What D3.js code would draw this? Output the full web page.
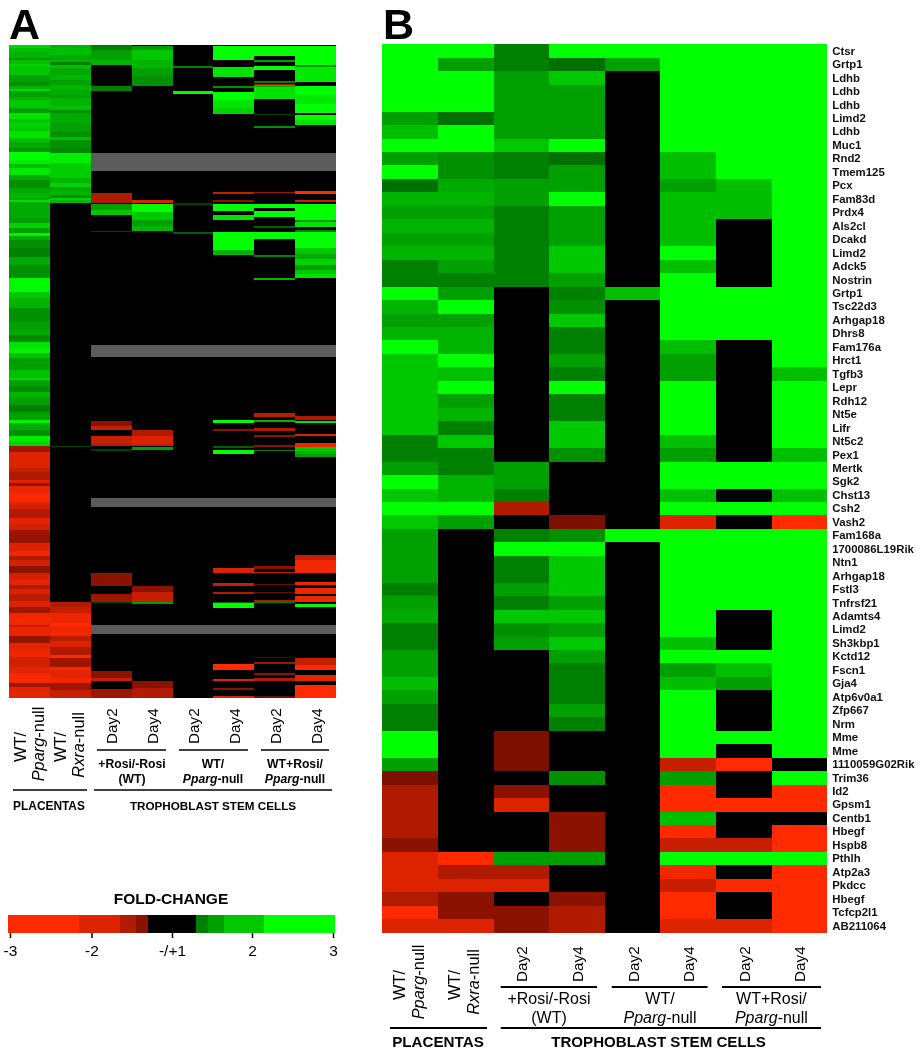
<!DOCTYPE html>
<html>
<head>
<meta charset="utf-8">
<script src="https://cdn.jsdelivr.net/npm/d3@7"></script>
<style>
body{margin:0;background:#fff;}
svg{display:block;font-family:"Liberation Sans",Arial,sans-serif;filter:blur(0.5px);}
</style>
</head>
<body>
<svg width="923" height="1050"></svg>
<script>
// colour key, symmetric fold-change (everything between -1 and +1 is black)
var levels = [-3, -2, -1.6, -1.4, -1, 1, 1.4, 1.6, 2, 3];
var levelColors = ["#ff2a00", "#dd2200", "#b01a00", "#8c1200", "#000000", "#000000", "#008000", "#00a000", "#00c800", "#00ff00"];
var keyEdges = [-3.03, -2.15, -1.65, -1.45, -1.3, 1.3, 1.45, 1.65, 2.15, 3.02];
var keyValues = [-3, -2, -1.6, -1.4, 0, 1.4, 1.6, 2, 3];
var keyTicks = [-3, -2, -1, 2, 3];
var keyTickLabels = ["-3", "-2", "-/+1", "2", "3"];

var genes = ["Ctsr", "Grtp1", "Ldhb", "Ldhb", "Ldhb", "Limd2", "Ldhb", "Muc1", "Rnd2", "Tmem125", "Pcx", "Fam83d", "Prdx4", "Als2cl", "Dcakd", "Limd2", "Adck5", "Nostrin",
    "Grtp1", "Tsc22d3", "Arhgap18", "Dhrs8", "Fam176a", "Hrct1", "Tgfb3", "Lepr", "Rdh12", "Nt5e", "Lifr", "Nt5c2", "Pex1", "Mertk", "Sgk2", "Chst13", "Csh2", "Vash2",
    "Fam168a", "1700086L19Rik", "Ntn1", "Arhgap18", "Fstl3", "Tnfrsf21", "Adamts4", "Limd2", "Sh3kbp1", "Kctd12", "Fscn1", "Gja4", "Atp6v0a1", "Zfp667", "Nrm", "Mme", "Mme", "1110059G02Rik",
    "Trim36", "Id2", "Gpsm1", "Centb1", "Hbegf", "Hspb8", "Pthlh", "Atp2a3", "Pkdcc", "Hbegf", "Tcfcp2l1", "AB211064"];

// panel B, one row per gene, 8 columns
var valuesB = [
    [3,3,1.4,3,3,3,3,3],[3,1.6,1.4,1.35,1.6,3,3,3],[3,3,1.6,2,0,3,3,3],[3,3,1.6,1.6,0,3,3,3],[3,3,1.6,1.6,0,3,3,3],
    [1.6,1.35,1.6,1.6,0,3,3,3],[1.9,3,1.6,1.6,0,3,3,3],[3,3,2,3,0,3,3,3],[1.6,1.5,1.4,1.35,0,1.9,3,3],[3,1.5,1.4,1.6,0,1.9,3,3],
    [1.35,1.7,1.6,1.6,0,1.6,1.9,3],[1.8,1.8,1.6,3,0,1.9,1.9,3],[1.6,1.6,1.4,1.6,0,1.9,1.9,3],[1.8,1.8,1.4,1.6,0,1.9,0,3],[1.6,1.6,1.4,1.6,0,1.9,0,3],
    [1.8,1.8,1.4,2,0,3,0,3],[1.4,1.6,1.4,2,0,1.9,0,3],[1.4,1.4,1.4,1.6,0,3,0,3],
    [3,1.6,0,1.4,1.9,3,3,3],[1.8,3,0,1.5,0,3,3,3],[1.6,1.6,0,2,0,3,3,3],[1.8,1.8,0,1.4,0,3,3,3],[3,1.8,0,1.4,0,1.9,0,3],
    [2,3,0,1.6,0,1.6,0,3],[2,1.9,0,1.4,0,1.6,0,1.9],[2,3,0,3,0,3,0,3],[2,1.6,0,1.4,0,3,0,3],[2,1.8,0,1.4,0,3,0,3],
    [2,1.4,0,2,0,3,0,3],[1.4,2,0,2,0,1.9,0,3],[1.4,1.4,0,1.5,0,1.6,0,1.9],[1.6,1.4,1.6,0,0,3,3,3],[3,1.8,1.6,0,0,3,3,3],
    [2,1.8,1.4,0,0,1.9,0,1.9],[3,3,-1.6,0,0,3,3,3],[2,1.6,0,-1.35,0,-2,0,-3],
    [1.6,0,1.4,1.5,3,3,3,3],[1.6,0,3,3,0,3,3,3],[1.6,0,1.4,2,0,3,3,3],[1.6,0,1.4,2,0,3,3,3],[1.4,0,1.6,2,0,3,3,3],
    [1.6,0,1.4,1.6,0,3,3,3],[1.7,0,2,2,0,3,0,3],[1.4,0,1.5,1.6,0,3,0,3],[1.4,0,1.6,2,0,1.9,0,3],[1.6,0,0,1.6,0,3,3,3],
    [1.6,0,0,1.4,0,1.6,1.9,3],[1.9,0,0,1.4,0,1.9,1.6,3],[1.6,0,0,1.4,0,3,0,3],[1.4,0,0,1.6,0,3,0,3],[1.4,0,0,1.4,0,3,0,3],
    [3,0,-1.35,0,0,3,3,3],[3,0,-1.35,0,0,3,0,3],[1.6,0,-1.35,0,0,-1.8,-3,0],[-1.35,0,0,1.5,0,1.6,0,3],[-1.6,0,-1.4,0,0,-3,0,-3],
    [-1.6,0,-2,0,0,-3,-3,-3],[-1.6,0,0,-1.4,0,1.9,0,0],[-1.6,0,0,-1.4,0,-3,0,-3],[-1.4,0,0,-1.4,0,-1.8,-1.8,-3],[-2,-3,1.6,1.6,0,3,3,3],
    [-2,-1.6,-1.6,0,0,-2.6,0,-3],[-2,-2,-2,0,0,-1.8,-3,-3],[-1.6,-1.4,0,-1.4,0,-3,0,-3],[-3,-1.4,-1.4,-1.6,0,-3,0,-3],[-2,-2,-1.4,-1.6,0,-2,-2,-3]
];

// panel A has far too many genes for a table: each column is a list of [rows, value]
var colA1 = [[3,2.3],[4,1.9],[6,1.8],[2,1.5],[4,1.9],[3,2.2],[2,1.9],[6,2],[7,1.6],[4,1.5],[3,1.8],[2,2.3],[6,1.6],[3,1.8],[8,2],[5,1.6],[6,2.5],[3,1.9],[5,2.2],[4,2],[7,2.5],[4,1.9],[6,1.7],[4,1.5],[8,3],[4,2.7],[4,1.9],[7,2.6],[5,1.7],[8,1.5],[5,1.7],[5,1.8],[2,1.7],[2,2.4],[8,1.7],
    [8,1.7],[5,1.6],[5,2.2],[5,1.6],[3,2.8],[4,1.7],[8,1.5],[9,1.4],[8,1.7],[13,1.5],[14,2.9],[6,2],[10,1.8],[14,1.5],[8,1.6],[5,1.7],[7,1.45],[7,2.5],[4,2.8],[5,1.9],[12,1.6],
    [8,1.9],[2,2.3],[7,1.6],[5,1.45],[6,1.8],[7,1.6],[7,1.4],[8,1.6],[3,2.8],[7,1.7],[6,1.5],[5,2.7],[5,2.2],
    [6,-1.5],[16,-2],[4,-1.8],[8,-1.6],[3,-2],[3,-1.45],[7,-2.4],[9,-2.9],[2,-2.2],[5,-1.9],[9,-1.6],[6,-2.2],[6,-1.9],[5,-1.5],
    [8,-1.45],[8,-2],[5,-2.6],[4,-1.6],[6,-1.9],[7,-1.4],[6,-1.9],[6,-2.3],[4,-1.6],[5,-2],[7,-1.7],[6,-2],[6,-1.5],[4,-2.5],[8,-2.6],[2,-1.8],[9,-2.4],[7,-1.45],[7,-2.2],[7,-2.5],[10,-1.9],[6,-2.1],[10,-2.8],[4,-1.5],[6,-2.2],[5,-2.3]];
var colA2 = [[3,1.8],[7,1.9],[5,1.7],[2,1.8],[3,1.4],[3,1.9],[7,1.7],[5,1.8],[5,1.6],[5,1.8],[5,1.7],[3,1.6],[7,1.8],[5,1.9],[3,1.5],[10,1.7],[9,1.6],[5,1.5],[3,1.9],[8,1.5],[5,1.45],[10,2.7],[15,2.1],[5,1.8],[4,2.2],[3,1.6],[5,1.8],[3,1.5],[2,2.2],[3,1.8],
    [243,0],[1,1.2],[155,0],
    [5,-1.6],[6,-1.8],[10,-2.5],[4,-3],[3,-2.4],[6,-2.6],[5,-1.7],[6,-2],[8,-1.6],[3,-3],[9,-1.5],[3,-2.8],[8,-2.2],[5,-2.6],[7,-1.5],[8,-1.8]];
var colA3 = [[5,1.4],[10,1.6],[5,1.8],[21,0],[5,1.4],[102,0],[10,-1.6],[1,0],[6,1.6],[5,2],[16,0],[1,1.2],[189,0],[5,-1.4],[4,-1.8],[6,0],[8,-1.8],[2,-1.6],[3,0],[2,1.2],[122,0],[13,-1.4],[8,0],[8,-1.5],[1,1.2],[68,0],[7,-1.4],[3,-1.8],[8,0],[9,-1.5]];
var colA4 = [[1,0],[4,1.6],[10,2],[8,1.8],[8,1.6],[10,1.5],[114,0],[3,-2],[1,0],[8,3],[8,2],[6,1.6],[5,1.8],[199,0],[6,-1.6],[8,-2],[2,-1.8],[1,0],[3,1.6],[136,0],[6,-1.4],[10,-1.8],[2,1.6],[77,0],[7,-1.4],[10,-1.6]];
var colA5 = [[21,0],[2,1.4],[23,0],[3,3],[109,0],[2,1.2],[27,0],[2,1.3]];
var colA6 = [[1,0],[14,3],[7,0],[10,2.5],[9,0],[2,1.5],[4,0],[8,3],[8,2.5],[6,2.2],[78,0],[2,-1.8],[6,0],[2,-1.4],[2,0],[7,3],[4,0],[5,2.5],[12,0],[18,3],[5,1.8],[165,0],[3,3],[6,0],[2,-1.4],[15,0],[2,1.3],[2,0],[4,3],[114,0],[5,-2],[10,0],[3,-1.8],[6,0],[2,-1.6],[8,0],[1,1.3],[5,3],[56,0],[6,-3],[9,0],[2,-2],[7,0],[2,-1.4],[6,0],[2,-2]];
var colA7 = [[1,0],[10,3],[4,0],[2,1.6],[4,0],[4,3],[11,0],[2,1.4],[1,0],[1,-1.6],[2,1.8],[12,2.5],[15,0],[1,1.2],[11,0],[2,1.5],[64,0],[1,-1.5],[11,0],[4,3],[3,0],[6,3],[9,0],[2,1.3],[4,0],[7,3],[16,0],[2,1.4],[21,0],[2,1.8],[133,0],[4,-1.7],[3,0],[2,1.8],[6,0],[3,-1.6],[4,0],[2,-1.4],[8,0],[2,-1.4],[3,0],[1,1.4],[115,0],[3,-1.4],[3,0],[1,-1.8],[11,0],[1,-1.3],[7,0],[1,-1.3],[7,0],[2,-1.6],[1,1.4],[54,0],[1,-1.2],[4,0],[2,-1.5],[9,0],[2,-1.4],[3,0],[3,-1.6],[15,0],[2,-1.3]];
var colA8 = [[1,0],[19,3],[2,1.5],[15,2.6],[4,0],[9,3],[9,2.6],[9,3],[2,0],[5,3],[5,2.5],[66,0],[2,-3],[1,1.8],[6,0],[2,-1.8],[2,0],[16,3],[2,1.5],[5,2.5],[3,0],[2,1.4],[16,3],[6,2],[5,1.7],[6,2.2],[5,1.6],[4,2],[4,2.5],[138,0],[4,-1.6],[1,0],[2,2.5],[11,0],[2,-2],[7,0],[4,-2.5],[4,2],[3,1.8],[3,1.6],[98,0],[5,-1.8],[13,-2.6],[9,0],[3,-2.5],[3,0],[6,-2.5],[2,0],[6,-2.5],[2,0],[3,3],[51,0],[7,-1.8],[5,-3],[5,0],[6,-2.2],[4,0],[13,-3]];
var columnsA = [colA1, colA2, colA3, colA4, colA5, colA6, colA7, colA8];
var rowsA = 653;
// [first row, rows] with no call in the stem cell columns (grey)
var noCallA = [[108,18],[300,12],[453,9],[580,9]];

var dayLabels = ["Day2", "Day4"];

var color = d3.scaleLinear().domain(levels).range(levelColors).clamp(true);
var svg = d3.select("svg");

function drawText(parent, x, y, parts, size, weight, rotate) {
    var t = parent.append("text")
        .attr("text-anchor", "middle")
        .attr("font-size", size)
        .attr("font-weight", weight || "normal")
        .attr("fill", "#000");
    if (rotate) t.attr("transform", "translate(" + x + "," + y + ") rotate(-90)");
    else t.attr("x", x).attr("y", y);
    parts.forEach(function(p) {
        var s = t.append("tspan").text(p.replace("*", ""));
        if (p.indexOf("*") == 0) s.attr("font-style", "italic");
    });
    return t;
}

function rule(parent, x1, x2, y, w) {
    parent.append("line").attr("x1", x1).attr("x2", x2).attr("y1", y).attr("y2", y)
        .attr("stroke", "#000").attr("stroke-width", w);
}

// ---------- panel A
var xA = d3.scaleBand().domain(d3.range(8)).range([9, 336]);
var yA = d3.scaleLinear().domain([0, rowsA]).range([45, 698]);
var gA = svg.append("g").attr("shape-rendering", "crispEdges").attr("class", "heat");
gA.append("rect").attr("x", xA(0)).attr("y", yA(0)).attr("width", xA.bandwidth() * 8).attr("height", yA(rowsA) - yA(0)).attr("fill", "#000");

columnsA.forEach(function(runs, c) {
    var start = 0;
    var cells = runs.map(function(r) {
        var cell = {start: start, n: r[0], v: r[1]};
        start += r[0];
        return cell;
    });
    gA.selectAll("rect.c" + c).data(cells).enter().append("rect")
        .attr("class", "c" + c)
        .attr("x", xA(c))
        .attr("y", function(d) { return yA(d.start); })
        .attr("width", xA.bandwidth())
        .attr("height", function(d) { return yA(d.start + d.n) - yA(d.start); })
        .attr("fill", function(d) { return color(d.v); });
});
gA.selectAll("rect.nocall").data(noCallA).enter().append("rect")
    .attr("class", "nocall")
    .attr("x", xA(2))
    .attr("y", function(d) { return yA(d[0]); })
    .attr("width", xA.bandwidth() * 6)
    .attr("height", function(d) { return yA(d[0] + d[1]) - yA(d[0]); })
    .attr("fill", "#5c5c5c");

svg.append("text").attr("x", 9).attr("y", 39).attr("font-size", 43).attr("font-weight", "bold").attr("fill", "#000").text("A");

var labA = svg.append("g");
drawText(labA, 26, 747, ["WT/"], 16.4, null, true);
drawText(labA, 44, 744, ["*Pparg", "-null"], 16.4, null, true);
drawText(labA, 66, 747, ["WT/"], 16.4, null, true);
drawText(labA, 84, 745, ["*Rxra", "-null"], 16.4, null, true);
d3.range(2, 8).forEach(function(c) {
    labA.append("text").attr("transform", "translate(" + (xA(c) + xA.bandwidth() / 2 + 6) + ",744) rotate(-90)")
        .attr("font-size", 15.3).attr("fill", "#000").text(dayLabels[c % 2]);
});
rule(labA, 97, 166, 750, 1.6);
rule(labA, 179, 248, 750, 1.6);
rule(labA, 261, 329, 750, 1.6);
drawText(labA, 132, 768, ["+Rosi/-Rosi"], 12.2, "bold");
drawText(labA, 132, 783, ["(WT)"], 12.2, "bold");
drawText(labA, 213, 768, ["WT/"], 12.2, "bold");
drawText(labA, 213, 783, ["*Pparg", "-null"], 12.2, "bold");
drawText(labA, 295, 768, ["WT+Rosi/"], 12.2, "bold");
drawText(labA, 295, 783, ["*Pparg", "-null"], 12.2, "bold");
rule(labA, 13, 87, 790, 1.6);
rule(labA, 94, 332, 790, 1.6);
drawText(labA, 49, 810, ["PLACENTAS"], 11.9, "bold");
drawText(labA, 213, 810, ["TROPHOBLAST STEM CELLS"], 11.7, "bold");

// ---------- colour key
var xKey = d3.scaleLinear().domain([-3, -2, -1, 1, 2, 3]).range([10, 91.5, 172, 172, 252, 333]);
var gKey = svg.append("g");
gKey.selectAll("rect").data(keyValues).enter().append("rect")
    .attr("x", function(d, i) { return xKey(keyEdges[i]); })
    .attr("y", 915)
    .attr("width", function(d, i) { return xKey(keyEdges[i + 1]) - xKey(keyEdges[i]); })
    .attr("height", 18)
    .attr("fill", function(d) { return color(d); })
    .attr("shape-rendering", "crispEdges");
drawText(gKey, 171, 904, ["FOLD-CHANGE"], 15.5, "bold");
var keyAxis = d3.axisBottom(xKey).tickValues(keyTicks).tickSize(5).tickPadding(7)
    .tickFormat(function(d, i) { return keyTickLabels[i]; });
var gAxis = gKey.append("g").attr("transform", "translate(0,933)").call(keyAxis);
gAxis.select(".domain").remove();
gAxis.selectAll("line").attr("stroke", "#000").attr("stroke-width", 1.5);
gAxis.selectAll("text").attr("font-size", 15.5).attr("fill", "#000").attr("font-family", "Liberation Sans");

// ---------- panel B
var xB = d3.scaleBand().domain(d3.range(8)).range([382.4, 827.2]);
var yB = d3.scaleBand().domain(d3.range(genes.length)).range([44.3, 932.7]);
var gB = svg.append("g").attr("shape-rendering", "crispEdges").attr("class", "heat");
gB.selectAll("g").data(valuesB).enter().append("g")
    .attr("transform", function(d, i) { return "translate(0," + yB(i) + ")"; })
    .selectAll("rect").data(function(d) { return d; }).enter().append("rect")
    .attr("x", function(d, i) { return xB(i); })
    .attr("width", xB.bandwidth())
    .attr("height", yB.bandwidth())
    .attr("fill", function(d) { return d == 0 ? "#000" : color(d); });

var geneAxis = d3.axisRight(yB).tickSize(0).tickPadding(5).tickFormat(function(i) { return genes[i]; });
var gGene = svg.append("g").attr("transform", "translate(827.2,0)").call(geneAxis);
gGene.select(".domain").remove();
gGene.selectAll("text").attr("font-size", 11.4).attr("font-weight", "bold").attr("fill", "#111").attr("font-family", "Liberation Sans");

svg.append("text").attr("x", 383).attr("y", 39).attr("font-size", 43).attr("font-weight", "bold").attr("fill", "#000").text("B");

var labB = svg.append("g");
drawText(labB, 405, 985, ["WT/"], 16.4, null, true);
drawText(labB, 424, 982, ["*Pparg", "-null"], 16.4, null, true);
drawText(labB, 460, 985, ["WT/"], 16.4, null, true);
drawText(labB, 479, 982, ["*Rxra", "-null"], 16.4, null, true);
d3.range(2, 8).forEach(function(c) {
    labB.append("text").attr("transform", "translate(" + (xB(c) + xB.bandwidth() / 2 + 6) + ",982) rotate(-90)")
        .attr("font-size", 15.3).attr("fill", "#000").text(dayLabels[c % 2]);
});
rule(labB, 500.7, 597, 987, 1.8);
rule(labB, 611.7, 707.6, 987, 1.8);
rule(labB, 722, 821, 987, 1.8);
drawText(labB, 549, 1004, ["+Rosi/-Rosi"], 16);
drawText(labB, 549, 1023, ["(WT)"], 16);
drawText(labB, 660, 1004, ["WT/"], 16);
drawText(labB, 660, 1023, ["*Pparg", "-null"], 16);
drawText(labB, 771.4, 1004, ["WT+Rosi/"], 16);
drawText(labB, 771.4, 1023, ["*Pparg", "-null"], 16);
rule(labB, 390, 487, 1028, 1.8);
rule(labB, 500.7, 821, 1028, 1.8);
drawText(labB, 438, 1047, ["PLACENTAS"], 15.2, "bold");
drawText(labB, 658.6, 1047, ["TROPHOBLAST STEM CELLS"], 15.1, "bold");
</script>
</body>
</html>
